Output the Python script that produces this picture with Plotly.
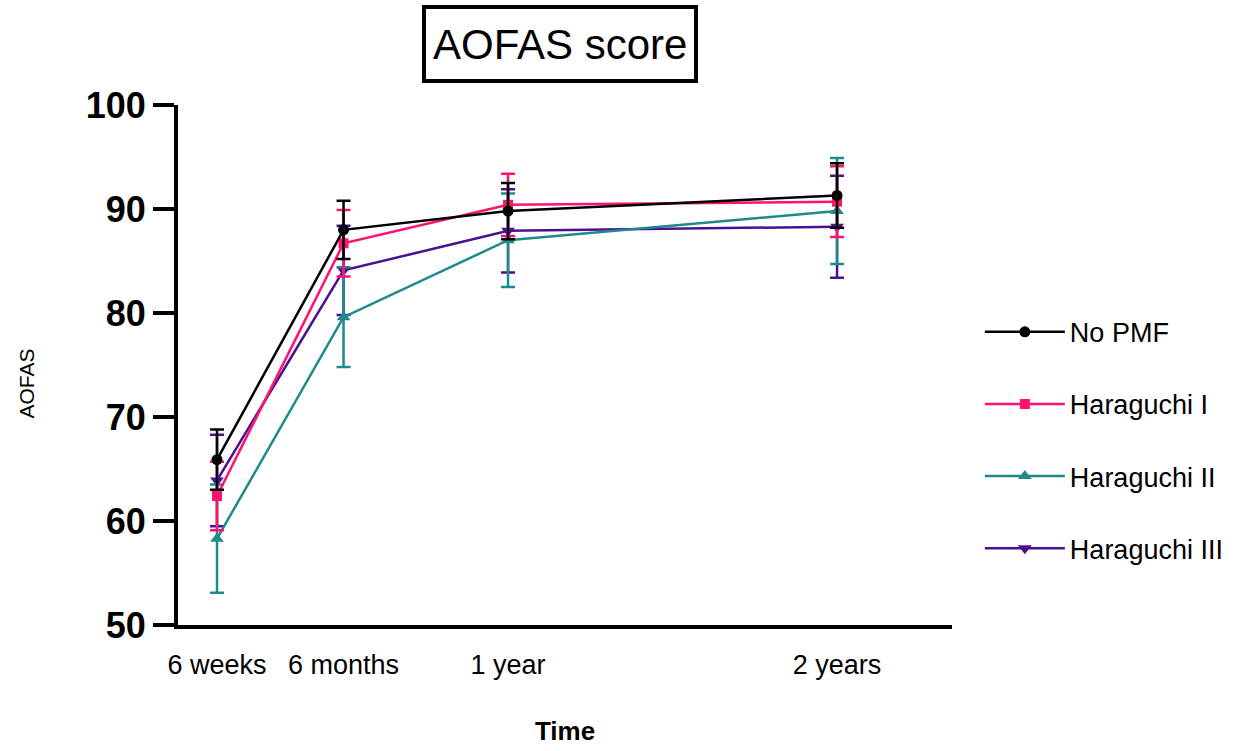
import plotly.graph_objects as go

time_weeks = [6, 26, 52, 104]
time_labels = ["6 weeks", "6 months", "1 year", "2 years"]

series_names = ["No PMF", "Haraguchi I", "Haraguchi II", "Haraguchi III"]
no_pmf_mean = [65.9, 88.0, 89.8, 91.3]
no_pmf_sd = [2.9, 2.8, 2.7, 3.1]
har1_mean = [62.4, 86.7, 90.4, 90.7]
har1_sd = [3.3, 3.2, 3.0, 3.4]
har2_mean = [58.3, 79.6, 87.0, 89.8]
har2_sd = [5.2, 4.8, 4.5, 5.1]
har3_mean = [63.9, 84.1, 87.9, 88.3]
har3_sd = [4.4, 4.3, 4.0, 4.9]

colors = ["#000000", "#FF1270", "#1F8A8A", "#4A1091"]
symbols = ["circle", "square", "triangle-up", "triangle-down"]
marker_sizes = [11, 10, 12, 12]
means = [no_pmf_mean, har1_mean, har2_mean, har3_mean]
sds = [no_pmf_sd, har1_sd, har2_sd, har3_sd]

fig = go.Figure()
# add in reverse so black draws on top; legendrank keeps legend order
for i in reversed(range(4)):
    fig.add_trace(go.Scatter(
        x=time_weeks, y=means[i], name=series_names[i],
        mode="lines+markers",
        line=dict(color=colors[i], width=2.5),
        marker=dict(symbol=symbols[i], size=marker_sizes[i], color=colors[i]),
        error_y=dict(type="data", array=sds[i], visible=True,
                     color=colors[i], thickness=2.5, width=7),
        legendgroup=series_names[i],
        legendrank=i + 1,
    ))

font_main = "Arial, Liberation Sans, sans-serif"

fig.update_layout(
    width=1241, height=751,
    margin=dict(l=178, r=289, t=105, b=126),
    paper_bgcolor="white", plot_bgcolor="white",
    showlegend=True,
    legend=dict(
        x=1.036, xanchor="left", y=0.61, yanchor="top",
        traceorder="grouped", tracegroupgap=34,
        font=dict(family=font_main, size=27, color="black"),
        itemwidth=80,
        bgcolor="rgba(0,0,0,0)",
    ),
    xaxis=dict(
        range=[-0.164, 122.17],
        tickvals=time_weeks, ticktext=time_labels,
        showline=True, linewidth=4, linecolor="black",
        ticks="", showgrid=False, zeroline=False,
        tickangle=0, automargin=False,
        tickfont=dict(family=font_main, size=27, color="black"),
        ticklabelstandoff=13,
        title=dict(text="Time", standoff=43,
                   font=dict(family=font_main, size=26, color="black", weight="bold")),
    ),
    yaxis=dict(
        range=[50, 100], tickvals=[50, 60, 70, 80, 90, 100],
        showline=True, linewidth=4, linecolor="black",
        ticks="outside", ticklen=21, tickwidth=4, tickcolor="black",
        showgrid=False, zeroline=False, automargin=False,
        tickfont=dict(family=font_main, size=36, color="black", weight="bold"),
    ),
    annotations=[
        dict(text="AOFAS score", xref="paper", yref="paper",
             x=0.494, y=1.117, xanchor="center", yanchor="middle",
             showarrow=False, height=56,
             font=dict(family=font_main, size=42, color="black"),
             bordercolor="black", borderwidth=4, borderpad=7,
             bgcolor="white"),
        dict(text="AOFAS", xref="paper", yref="paper",
             x=-0.196, y=0.465, xanchor="center", yanchor="middle",
             textangle=-90, showarrow=False,
             font=dict(family=font_main, size=21, color="black")),
    ],
)

fig.write_html("out.html")
